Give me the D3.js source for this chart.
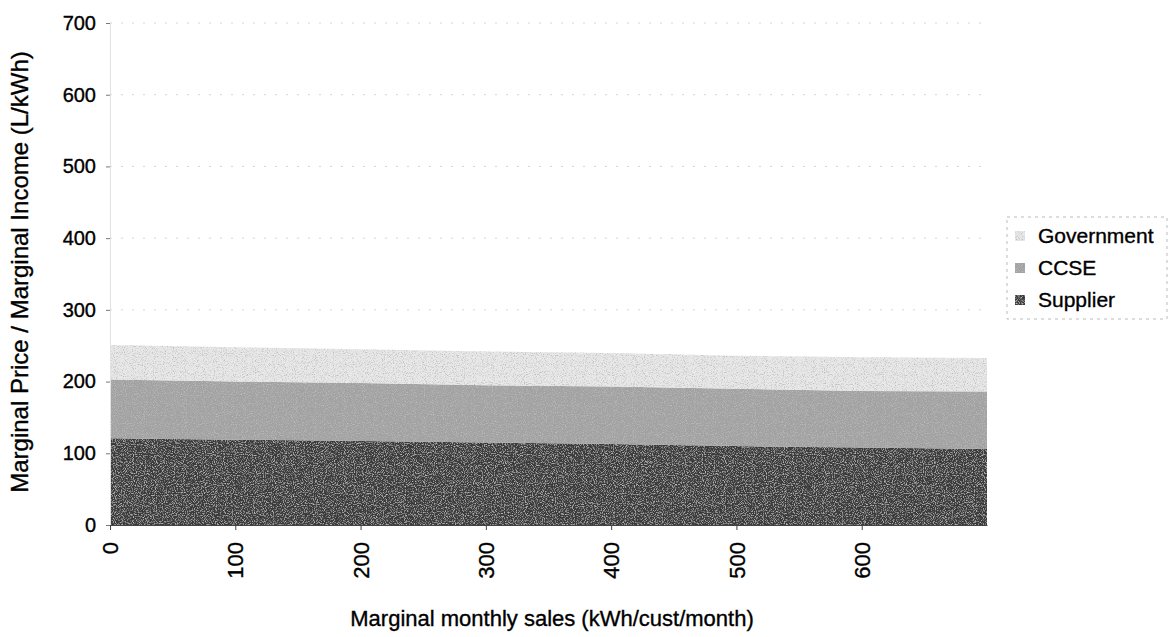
<!DOCTYPE html>
<html><head><meta charset="utf-8">
<script src="https://cdn.jsdelivr.net/npm/d3@7"></script>
<style>body{margin:0;background:#fff}svg{display:block}text{font-family:Arial,"Liberation Sans",sans-serif;fill:#000;stroke:#000;stroke-width:0.35px}</style>
</head><body><svg id="c" width="1170" height="637"></svg>
<script>
const xValues = [0,100,200,300,400,500,600,700];
const supplier = [121,119,117,115,113,110,108,106];
const ccse = [82,81,81,80,80,80,79,80];
const government = [48,48,47,47,47,46,47,47];
const seriesNames = ["Supplier","CCSE","Government"];
const seriesColors = ["#3a3a3a","#a2a2a2","#e8e8e8"];
const yTicks = [0,100,200,300,400,500,600,700];
const xTicks = [0,100,200,300,400,500,600];
const legendOrder = ["Government","CCSE","Supplier"];

const svg = d3.select("#c");
const m = {l:110, r:987, t:23, b:525};
const x = d3.scaleLinear().domain([0,700]).range([m.l,m.r]);
const y = d3.scaleLinear().domain([0,700]).range([m.b,m.t]);

const rows = xValues.map((v,i)=>({x:v,Supplier:supplier[i],CCSE:ccse[i],Government:government[i]}));
const stack = d3.stack().keys(seriesNames)(rows);

// faint gridlines
svg.append("g").selectAll("line").data(yTicks.filter(d=>d>0)).join("line")
  .attr("x1",m.l).attr("x2",m.r).attr("y1",d=>y(d)).attr("y2",d=>y(d))
  .attr("stroke","#d4d4d4").attr("stroke-width",1).attr("stroke-dasharray","2,9");

// grain filter for scan-like texture
const defs = svg.append("defs");
const f = defs.append("filter").attr("id","grain").attr("x",0).attr("y",0).attr("width",1).attr("height",1);
f.append("feTurbulence").attr("type","fractalNoise").attr("baseFrequency",0.9).attr("numOctaves",2).attr("seed",5).attr("result","n");
f.append("feColorMatrix").attr("in","n").attr("type","matrix")
  .attr("values","0 0 0 0 0.5  0 0 0 0 0.5  0 0 0 0 0.5  0 0 0 3 -1.45").attr("result","a");
f.append("feComposite").attr("in","a").attr("in2","SourceGraphic").attr("operator","in").attr("result","g");
const mg = f.append("feMerge");
mg.append("feMergeNode").attr("in","SourceGraphic");
mg.append("feMergeNode").attr("in","g");

const area = d3.area().x(d=>x(d.data.x)).y0(d=>y(d[0])).y1(d=>y(d[1]));
svg.append("g").selectAll("path").data(stack).join("path")
  .attr("d",area).attr("fill",(d,i)=>seriesColors[i]).attr("filter","url(#grain)");

// y axis
const ya = svg.append("g").attr("transform",`translate(${m.l},0)`)
  .call(d3.axisLeft(y).tickValues(yTicks).tickSize(4).tickPadding(10));
ya.select(".domain").attr("stroke","#e2e2e2");
ya.selectAll(".tick line").attr("stroke","#777");
ya.selectAll("text").style("font-size","20px").style("font-family","Arial, 'Liberation Sans', sans-serif");

// x axis
const xa = svg.append("g").attr("transform",`translate(0,${m.b})`)
  .call(d3.axisBottom(x).tickValues(xTicks).tickSize(5).tickSizeOuter(0));
xa.select(".domain").attr("stroke","#444");
xa.selectAll(".tick line").attr("stroke","#444");
xa.selectAll("text").style("font-size","22px").style("font-family","Arial, 'Liberation Sans', sans-serif")
  .attr("transform","rotate(-90)").attr("text-anchor","end").attr("x",-17).attr("y",0).attr("dy","0.35em");

// titles
svg.append("text").attr("x",552).attr("y",626).attr("text-anchor","middle").style("font-size","22px")
  .text("Marginal monthly sales (kWh/cust/month)");
svg.append("text").attr("transform","translate(28,272) rotate(-90)").attr("text-anchor","middle").style("font-size","24px")
  .text("Marginal Price / Marginal Income (L/kWh)");

// legend
const lg = svg.append("g");
lg.append("rect").attr("x",1007).attr("y",217).attr("width",160).attr("height",102)
  .attr("fill","none").attr("stroke","#bbb").attr("stroke-dasharray","3,4");
const items = lg.selectAll("g.it").data(legendOrder).join("g").attr("class","it")
  .attr("transform",(d,i)=>`translate(1015,${236+i*32})`);
items.append("rect").attr("x",0).attr("y",-5).attr("width",10).attr("height",10)
  .attr("fill",d=>seriesColors[seriesNames.indexOf(d)]).attr("filter","url(#grain)");
items.append("text").attr("x",23).attr("y",0).attr("dy","0.35em").style("font-size","21px").text(d=>d);
</script></body></html>
